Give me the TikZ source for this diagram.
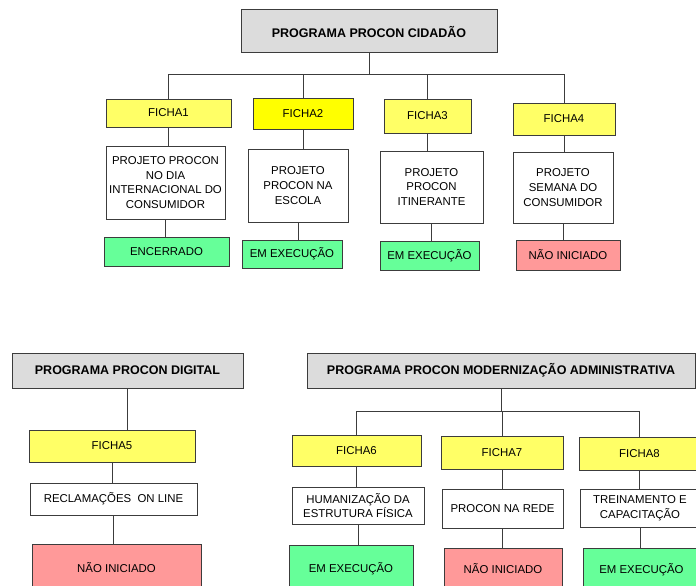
\documentclass[tikz,border=0pt]{standalone}
\usepackage{fontspec}
\setmainfont{Liberation Sans}

\definecolor{cinza}{HTML}{DCDCDC}
\definecolor{amarelo}{HTML}{FFFF66}
\definecolor{amareloforte}{HTML}{FFFF00}
\definecolor{verde}{HTML}{66FF99}
\definecolor{rosa}{HTML}{FF9999}
\definecolor{borda}{HTML}{3C3C3C}

\begin{document}
\begin{tikzpicture}[x=1pt,y=-1pt,
    caixa/.style={draw=borda,line width=1pt,inner sep=1pt,align=center,
      font=\fontsize{11.4}{14.6}\selectfont},
    programa/.style={caixa,fill=cinza,font=\bfseries\fontsize{12.5}{14}\selectfont},
    ficha/.style={caixa,fill=amarelo},
    projeto/.style={caixa,fill=white},
    encerrado/.style={caixa,fill=verde},
    execucao/.style={caixa,fill=verde},
    naoiniciado/.style={caixa,fill=rosa},
    ligacao/.style={draw=borda,line width=1pt}]
  \useasboundingbox (0,0) rectangle (696,586);

  % programa procon cidadao
  \node[programa,minimum width=256,minimum height=43] (cid) at (369,31.5) {PROGRAMA PROCON CIDAD\~AO};
  \node[ficha,minimum width=125,minimum height=28] (f1) at (168.5,113) {FICHA1};
  \node[ficha,fill=amareloforte,minimum width=100,minimum height=31] (f2) at (303,113.5) {FICHA2};
  \node[ficha,minimum width=87,minimum height=34] (f3) at (427.5,116) {FICHA3};
  \node[ficha,minimum width=102,minimum height=32] (f4) at (564,119) {FICHA4};
  \node[projeto,minimum width=119,minimum height=73] (p1) at (165.5,182.5) {PROJETO PROCON\\NO DIA\\INTERNACIONAL DO\\CONSUMIDOR};
  \node[projeto,minimum width=100,minimum height=73] (p2) at (298,185.5) {PROJETO\\PROCON NA\\ESCOLA};
  \node[projeto,minimum width=103,minimum height=72] (p3) at (431.5,187) {PROJETO\\PROCON\\ITINERANTE};
  \node[projeto,minimum width=100,minimum height=71] (p4) at (563,187.5) {PROJETO\\SEMANA DO\\CONSUMIDOR};
  \node[encerrado,minimum width=125,minimum height=29] (s1) at (166.5,251.5) {ENCERRADO};
  \node[execucao,minimum width=100,minimum height=28] (s2) at (292,254) {EM EXECUÇÃO};
  \node[execucao,minimum width=99,minimum height=29] (s3) at (429.5,255.5) {EM EXECUÇÃO};
  \node[naoiniciado,minimum width=104,minimum height=30] (s4) at (568,255) {NÃO INICIADO};

  % programa procon digital
  \node[programa,minimum width=231,minimum height=35] (dig) at (127.5,370.5) {PROGRAMA PROCON DIGITAL};
  \node[ficha,minimum width=166,minimum height=32] (f5) at (112,446) {FICHA5};
  \node[projeto,minimum width=167,minimum height=32] (p5) at (113.5,499) {RECLAMAÇÕES\ \ ON LINE};
  \node[naoiniciado,minimum width=169,minimum height=48] (s5) at (116.5,568) {NÃO INICIADO};

  % programa procon modernizacao administrativa
  \node[programa,minimum width=388,minimum height=35] (mod) at (501,370.5) {PROGRAMA PROCON MODERNIZAÇÃO ADMINISTRATIVA};
  \node[ficha,minimum width=129,minimum height=31] (f6) at (356.5,450.5) {FICHA6};
  \node[ficha,minimum width=122,minimum height=33] (f7) at (502,452.5) {FICHA7};
  \node[ficha,minimum width=121,minimum height=33] (f8) at (639.5,453.5) {FICHA8};
  \node[projeto,minimum width=132,minimum height=37] (p6) at (358,505.5) {HUMANIZAÇÃO DA\\ESTRUTURA FÍSICA};
  \node[projeto,minimum width=121,minimum height=39] (p7) at (502.5,508.5) {PROCON NA REDE};
  \node[projeto,minimum width=120,minimum height=38] (p8) at (640,508) {TREINAMENTO E\\CAPACITAÇÃO};
  \node[execucao,minimum width=124,minimum height=48] (s6) at (351,569) {EM EXECUÇÃO};
  \node[naoiniciado,minimum width=118,minimum height=42] (s7) at (503,569) {NÃO INICIADO};
  \node[execucao,minimum width=117,minimum height=44] (s8) at (641.5,570) {EM EXECUÇÃO};

  % barras
  \coordinate (barra1) at (363,75);
  \coordinate (barra2) at (502,411);
  \draw[ligacao] (cid) -- (cid |- barra1);
  \draw[ligacao] (f1.north) |- (f4.north |- barra1) -- (f4.north);
  \foreach \f in {f2,f3}
    \draw[ligacao] (\f.north) -- (\f.north |- barra1);
  \draw[ligacao] (mod) -- (mod |- barra2);
  \draw[ligacao] (f6.north) |- (f8.north |- barra2) -- (f8.north);
  \draw[ligacao] (f7.north) -- (f7.north |- barra2);
  \draw[ligacao] (dig) -- (dig |- f5.north);

  % fichas, projetos e situacao
  \foreach \a/\b in {f1/p1,p1/s1,f2/p2,p2/s2,f3/p3,p3/s3,f4/p4,p4/s4,
                     f5/p5,p5/s5,f6/p6,p6/s6,f7/p7,p7/s7,f8/p8,p8/s8}
    \draw[ligacao] (\a.south) -- (\a.south |- \b.north);
\end{tikzpicture}
\end{document}
